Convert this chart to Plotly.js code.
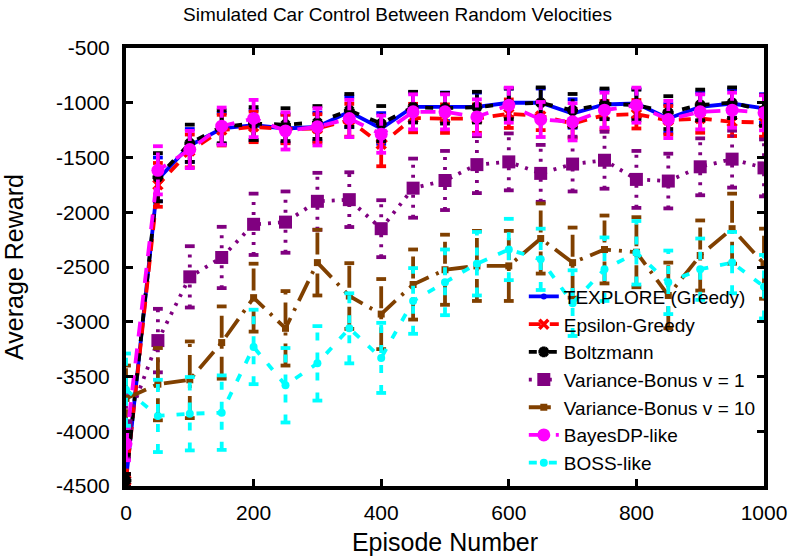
<!DOCTYPE html>
<html>
<head>
<meta charset="utf-8">
<script src="https://cdn.plot.ly/plotly-3.0.1.min.js"></script>
<style>html,body{margin:0;padding:0;background:#fff;}#chart{width:795px;height:558px;}</style>
</head>
<body>
<div id="chart"></div>
<script>
// Episode numbers
const episodes = [0,50,100,150,200,250,300,350,400,450,500,550,600,650,700,750,800,850,900,950,1000];

const seriesNames = ["TEXPLORE (Greedy)","Epsilon-Greedy","Boltzmann","Variance-Bonus v = 1","Variance-Bonus v = 10","BayesDP-like","BOSS-like"];

const texplore = [-4450,-1700,-1390,-1235,-1205,-1235,-1220,-1083,-1235,-1037,-1037,-1037,-1000,-1000,-1098,-1016,-1007,-1144,-1037,-1007,-1052];
const texploreErr = [60,200,150,140,140,130,130,140,140,130,130,130,130,130,130,130,130,130,130,130,130];

const epsilon = [-4450,-1750,-1440,-1250,-1220,-1240,-1235,-1160,-1380,-1140,-1145,-1145,-1100,-1120,-1190,-1113,-1105,-1160,-1144,-1174,-1180];
const epsilonErr = [60,200,150,140,140,130,130,150,200,130,130,130,130,130,130,130,130,130,130,130,130];

const boltzmann = [-4450,-1680,-1370,-1220,-1190,-1200,-1180,-1070,-1190,-1040,-1050,-1040,-1010,-1000,-1070,-1010,-1020,-1090,-1020,-1000,-1070];
const boltzmannErr = [60,220,170,150,150,150,150,150,160,140,140,140,140,140,150,140,140,150,140,140,140];

const varBonus1 = [-3950,-3172,-2590,-2413,-2110,-2090,-1900,-1885,-2150,-1780,-1710,-1565,-1540,-1645,-1560,-1525,-1700,-1715,-1585,-1515,-1595];
const varBonus1Err = [300,290,280,280,280,280,260,250,260,270,270,260,260,260,250,260,260,250,260,260,260];

const varBonus10 = [-3700,-3570,-3530,-3190,-2780,-3060,-2460,-2765,-2930,-2660,-2525,-2490,-2490,-2240,-2460,-2340,-2365,-2760,-2395,-2150,-2470];
const varBonus10Err = [300,330,350,330,310,340,300,300,320,320,320,320,320,320,320,310,320,300,320,320,320];

const bayesDP = [-4115,-1617,-1427,-1214,-1144,-1257,-1220,-1144,-1287,-1083,-1083,-1129,-1022,-1153,-1174,-1068,-1022,-1153,-1083,-1068,-1092];
const bayesDPErr = [150,220,170,170,170,170,170,170,170,160,160,160,160,160,170,160,160,170,160,160,160];

const boss = [-3620,-3860,-3840,-3830,-3230,-3580,-3380,-3060,-3330,-2810,-2640,-2470,-2340,-2430,-2830,-2520,-2370,-2640,-2520,-2460,-2680];
const bossErr = [330,330,335,340,340,340,340,320,320,300,300,290,280,280,300,290,290,290,280,280,290];

const xTicks = [0,200,400,600,800,1000];
const yTicks = [-500,-1000,-1500,-2000,-2500,-3000,-3500,-4000,-4500];

const allValues = [texplore, epsilon, boltzmann, varBonus1, varBonus10, bayesDP, boss];
const allErrs = [texploreErr, epsilonErr, boltzmannErr, varBonus1Err, varBonus10Err, bayesDPErr, bossErr];

const styles = [
  {color:'#0000ff', dash:'solid', symbol:'circle', size:6, open:false},
  {color:'#ff0000', dash:'12px,9px', symbol:'x-thin-open', size:9, open:true},
  {color:'#000000', dash:'8px,12px', symbol:'asterisk-open', size:9, open:true},
  {color:'#800080', dash:'3px,7px', symbol:'square', size:13, open:false},
  {color:'#804000', dash:'22px,8px,3px,8px', symbol:'square', size:7, open:false},
  {color:'#ff00ff', dash:'15px,12px', symbol:'circle', size:13, open:false},
  {color:'#00ffff', dash:'8px,12px', symbol:'circle', size:8, open:false}
];

const traces = [];
allValues.forEach((vals, i) => {
  const st = styles[i];
  const errs = allErrs[i];
  const ex = [], ey = [], cx = [], cy = [];
  episodes.forEach((x, j) => {
    ex.push(x, x, null);
    ey.push(vals[j] - errs[j], vals[j] + errs[j], null);
    cx.push(x, x);
    cy.push(vals[j] - errs[j], vals[j] + errs[j]);
  });
  traces.push({
    x: ex, y: ey, type: 'scatter', mode: 'lines', showlegend: false, hoverinfo: 'skip',
    line: {color: st.color, width: 3.8, dash: st.dash}
  });
  traces.push({
    x: cx, y: cy, type: 'scatter', mode: 'markers', showlegend: false, hoverinfo: 'skip',
    marker: {symbol: 'line-ew-open', size: 7, color: st.color, line: {color: st.color, width: 3.8}}
  });
  const marker = st.open
    ? {symbol: st.symbol, size: st.size, color: st.color, line: {color: st.color, width: 3.5}}
    : {symbol: st.symbol, size: st.size, color: st.color, line: {width: 0}};
  traces.push({
    x: episodes, y: vals, type: 'scatter', mode: 'lines+markers', name: seriesNames[i],
    line: {color: st.color, width: 3.8, dash: st.dash},
    marker: marker
  });
});

const font = {family: '"Liberation Sans", Arial, Helvetica, sans-serif', color: '#000'};

const layout = {
  width: 795, height: 558,
  margin: {l: 126, r: 31, t: 48, b: 72},
  paper_bgcolor: '#fff', plot_bgcolor: '#fff',
  font: Object.assign({size: 21}, font),
  title: {text: 'Simulated Car Control Between Random Velocities', font: Object.assign({size: 19}, font),
          x: 0.5, xanchor: 'center', y: 0.975, yanchor: 'middle'},
  xaxis: {
    range: [0, 1000], tickvals: xTicks, ticktext: xTicks.map(String),
    showgrid: false, zeroline: false, showline: true, linecolor: '#000', linewidth: 4, mirror: 'ticks',
    ticks: 'inside', ticklen: 7, tickwidth: 3, tickcolor: '#000', ticklabelstandoff: 5,
    tickfont: Object.assign({size: 21}, font),
    automargin: false,
    title: {text: 'Episode Number', font: Object.assign({size: 25}, font), standoff: 11}
  },
  yaxis: {
    range: [-4500, -500], tickvals: yTicks, ticktext: yTicks.map(String),
    showgrid: false, zeroline: false, showline: true, linecolor: '#000', linewidth: 4, mirror: 'ticks',
    ticks: 'inside', ticklen: 7, tickwidth: 3, tickcolor: '#000', ticklabelstandoff: 8,
    tickfont: Object.assign({size: 21}, font),
    automargin: false,
    title: {text: 'Average Reward', font: Object.assign({size: 25}, font), standoff: 26}
  },
  legend: {
    x: 0.995, xanchor: 'right', y: 0.01, yanchor: 'bottom',
    bgcolor: 'rgba(0,0,0,0)', borderwidth: 0,
    font: Object.assign({size: 19}, font),
    tracegroupgap: 0, itemsizing: 'trace'
  },
  showlegend: true
};

Plotly.newPlot('chart', traces, layout, {displayModeBar: false, staticPlot: true});
</script>
</body>
</html>
